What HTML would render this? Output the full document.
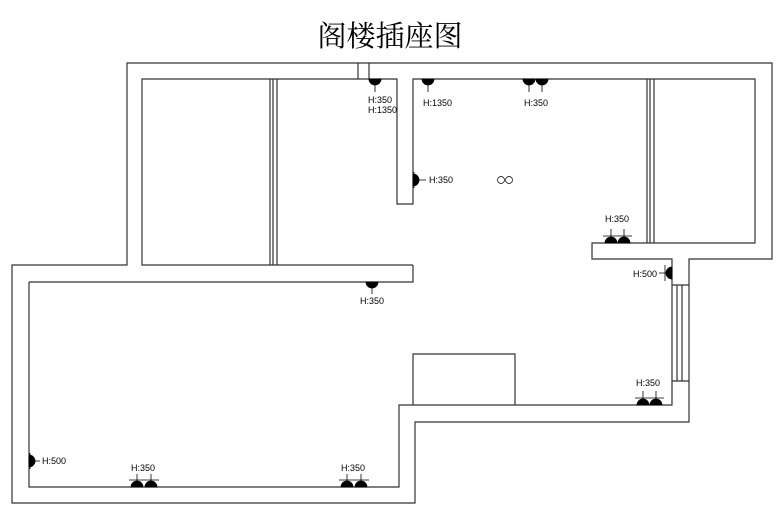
<!DOCTYPE html>
<html><head><meta charset="utf-8"><style>
html,body{margin:0;padding:0;background:#fff;}
svg{display:block;}
text{font-family:"Liberation Sans",sans-serif;font-size:9px;fill:#000;}
</style></head><body>
<svg width="779" height="519" viewBox="0 0 779 519" xmlns="http://www.w3.org/2000/svg">
<text x="390" y="46" text-anchor="middle" style="font-family:'Liberation Serif','Noto Serif CJK SC',serif;font-size:29px">阁楼插座图</text>
<g fill="none" stroke="#333" stroke-width="1.2">
<path d="M127,265 V63 H772 V259 H689 V422 H415 V503 H12 V265 Z"/>
<path d="M29,282 H413 V265 M29,282 V487 H399 V405 H672 V259 H592 V243 H755 V79 H413 V204 H397 V79 H142 V265 H413"/>
<path d="M358,63 V79 M369,63 V79"/>
<path d="M270,79 V265 M273,79 V265 M277,79 V265"/>
<path d="M647,79 V243 M650,79 V243 M654,79 V243"/>
<path d="M672,285 H689 M672,381 H689 M677,285 V381 M682,285 V381"/>
<path d="M413,405 V354 H515 V405"/>
<circle cx="501" cy="180" r="3.5" stroke-width="0.9"/>
<circle cx="509" cy="180" r="3.5" stroke-width="0.9"/>
</g>
<g fill="#000" stroke="#000" stroke-width="0.8">
<path d="M369,79 a6,6 0 0 0 12,0 Z"/><path d="M375,85 V92 M369,80 H381" fill="none"/>
<path d="M422,79 a6,6 0 0 0 12,0 Z"/><path d="M428,85 V92" fill="none"/>
<path d="M523,79 a6,6 0 0 0 12,0 Z"/><path d="M536,79 a6,6 0 0 0 12,0 Z"/><path d="M529,85 V92 M542,85 V92" fill="none"/>
<path d="M366,282 a6,6 0 0 0 12,0 Z"/><path d="M372,288 V294" fill="none"/>
<path d="M413,174 a6,6 0 0 1 0,12 Z"/><path d="M419,180 H426 M414,172 V188" fill="none"/>
<path d="M29,455 a6,6 0 0 1 0,12 Z"/><path d="M35,461 H40 M30,453 V469" fill="none"/>
<path d="M672,267 a6,6 0 0 0 0,12 Z"/><path d="M666,273 H659 M665,265 V281" fill="none"/>
<path d="M605,243 a6,6 0 0 1 12,0 Z"/><path d="M618,243 a6,6 0 0 1 12,0 Z"/><path d="M611,237 V229 M624,237 V229 M603,236 H632" fill="none"/>
<path d="M637,405 a6,6 0 0 1 12,0 Z"/><path d="M650,405 a6,6 0 0 1 12,0 Z"/><path d="M643,399 V391 M656,399 V391 M635,398 H664" fill="none"/>
<path d="M131,487 a6,6 0 0 1 12,0 Z"/><path d="M145,487 a6,6 0 0 1 12,0 Z"/><path d="M137,481 V474 M151,481 V474 M129,480 H159" fill="none"/>
<path d="M341,487 a6,6 0 0 1 12,0 Z"/><path d="M355,487 a6,6 0 0 1 12,0 Z"/><path d="M347,481 V474 M361,481 V474 M339,480 H369" fill="none"/>
</g>
<text x="368" y="103">H:350</text>
<text x="368" y="113">H:1350</text>
<text x="423" y="106">H:1350</text>
<text x="524" y="106">H:350</text>
<text x="429" y="183">H:350</text>
<text x="605" y="222">H:350</text>
<text x="633" y="277">H:500</text>
<text x="360" y="304">H:350</text>
<text x="636" y="386">H:350</text>
<text x="42" y="464">H:500</text>
<text x="131" y="471">H:350</text>
<text x="341" y="471">H:350</text>
</svg>
</body></html>
